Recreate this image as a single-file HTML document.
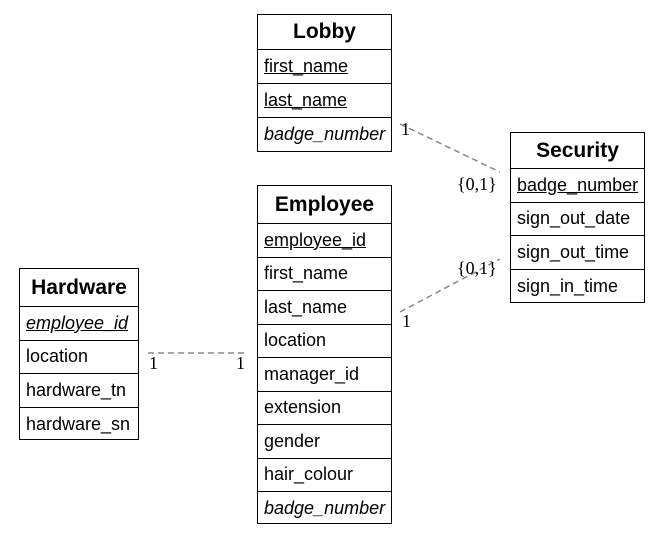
<!DOCTYPE html>
<html><head><meta charset="utf-8"><style>
body{margin:0;width:662px;height:536px;background:#fff;position:relative;overflow:hidden;font-family:"Liberation Sans",sans-serif;}
.t{position:absolute;border:1.5px solid #000;box-sizing:border-box;background:#fff;}
.h{font-weight:bold;font-size:21px;text-align:center;border-bottom:1.5px solid #000;box-sizing:border-box;display:flex;align-items:center;justify-content:center;}
.r{font-size:18px;padding-left:6px;border-bottom:1.5px solid #000;box-sizing:border-box;display:flex;align-items:center;white-space:nowrap;overflow:hidden;}
.r:last-child{border-bottom:none;}
.u{text-decoration:underline;}
.i{font-style:italic;}
.l{position:absolute;font-family:"Liberation Serif",serif;font-size:18px;}
</style></head><body>
<svg width="662" height="536" style="position:absolute;left:0;top:0">
<g stroke="#888" stroke-width="1.5" stroke-dasharray="6,4" fill="none">
<line x1="400" y1="124" x2="500" y2="172"/>
<line x1="400" y1="312" x2="500" y2="259"/>
<line x1="148" y1="353" x2="248" y2="353"/>
</g></svg>

<div class="t" style="left:257px;top:14px;width:135px;height:138px">
<div class="h" style="height:35px">Lobby</div>
<div class="r u" style="height:34px">first_name</div>
<div class="r u" style="height:34px">last_name</div>
<div class="r i" style="height:33px">badge_number</div>
</div>

<div class="t" style="left:510px;top:132px;width:135px;height:171px">
<div class="h" style="height:36px">Security</div>
<div class="r u" style="height:33.5px">badge_number</div>
<div class="r" style="height:33.5px">sign_out_date</div>
<div class="r" style="height:33.5px">sign_out_time</div>
<div class="r" style="height:33.5px">sign_in_time</div>
</div>

<div class="t" style="left:257px;top:185px;width:135px;height:339px">
<div class="h" style="height:38px">Employee</div>
<div class="r u" style="height:33.5px">employee_id</div>
<div class="r" style="height:33.5px">first_name</div>
<div class="r" style="height:33.5px">last_name</div>
<div class="r" style="height:33.5px">location</div>
<div class="r" style="height:33.5px">manager_id</div>
<div class="r" style="height:33.5px">extension</div>
<div class="r" style="height:33.5px">gender</div>
<div class="r" style="height:33.5px">hair_colour</div>
<div class="r i" style="height:33.5px">badge_number</div>
</div>

<div class="t" style="left:19px;top:268px;width:120px;height:172px">
<div class="h" style="height:38px">Hardware</div>
<div class="r u i" style="height:33.5px">employee_id</div>
<div class="r" style="height:33.5px">location</div>
<div class="r" style="height:33.5px">hardware_tn</div>
<div class="r" style="height:33.5px">hardware_sn</div>
</div>

<div class="l" style="left:401px;top:119px">1</div>
<div class="l" style="left:457px;top:174px">{0,1}</div>
<div class="l" style="left:457px;top:258px">{0,1}</div>
<div class="l" style="left:402px;top:311px">1</div>
<div class="l" style="left:149px;top:353px">1</div>
<div class="l" style="left:236px;top:353px">1</div>
</body></html>
